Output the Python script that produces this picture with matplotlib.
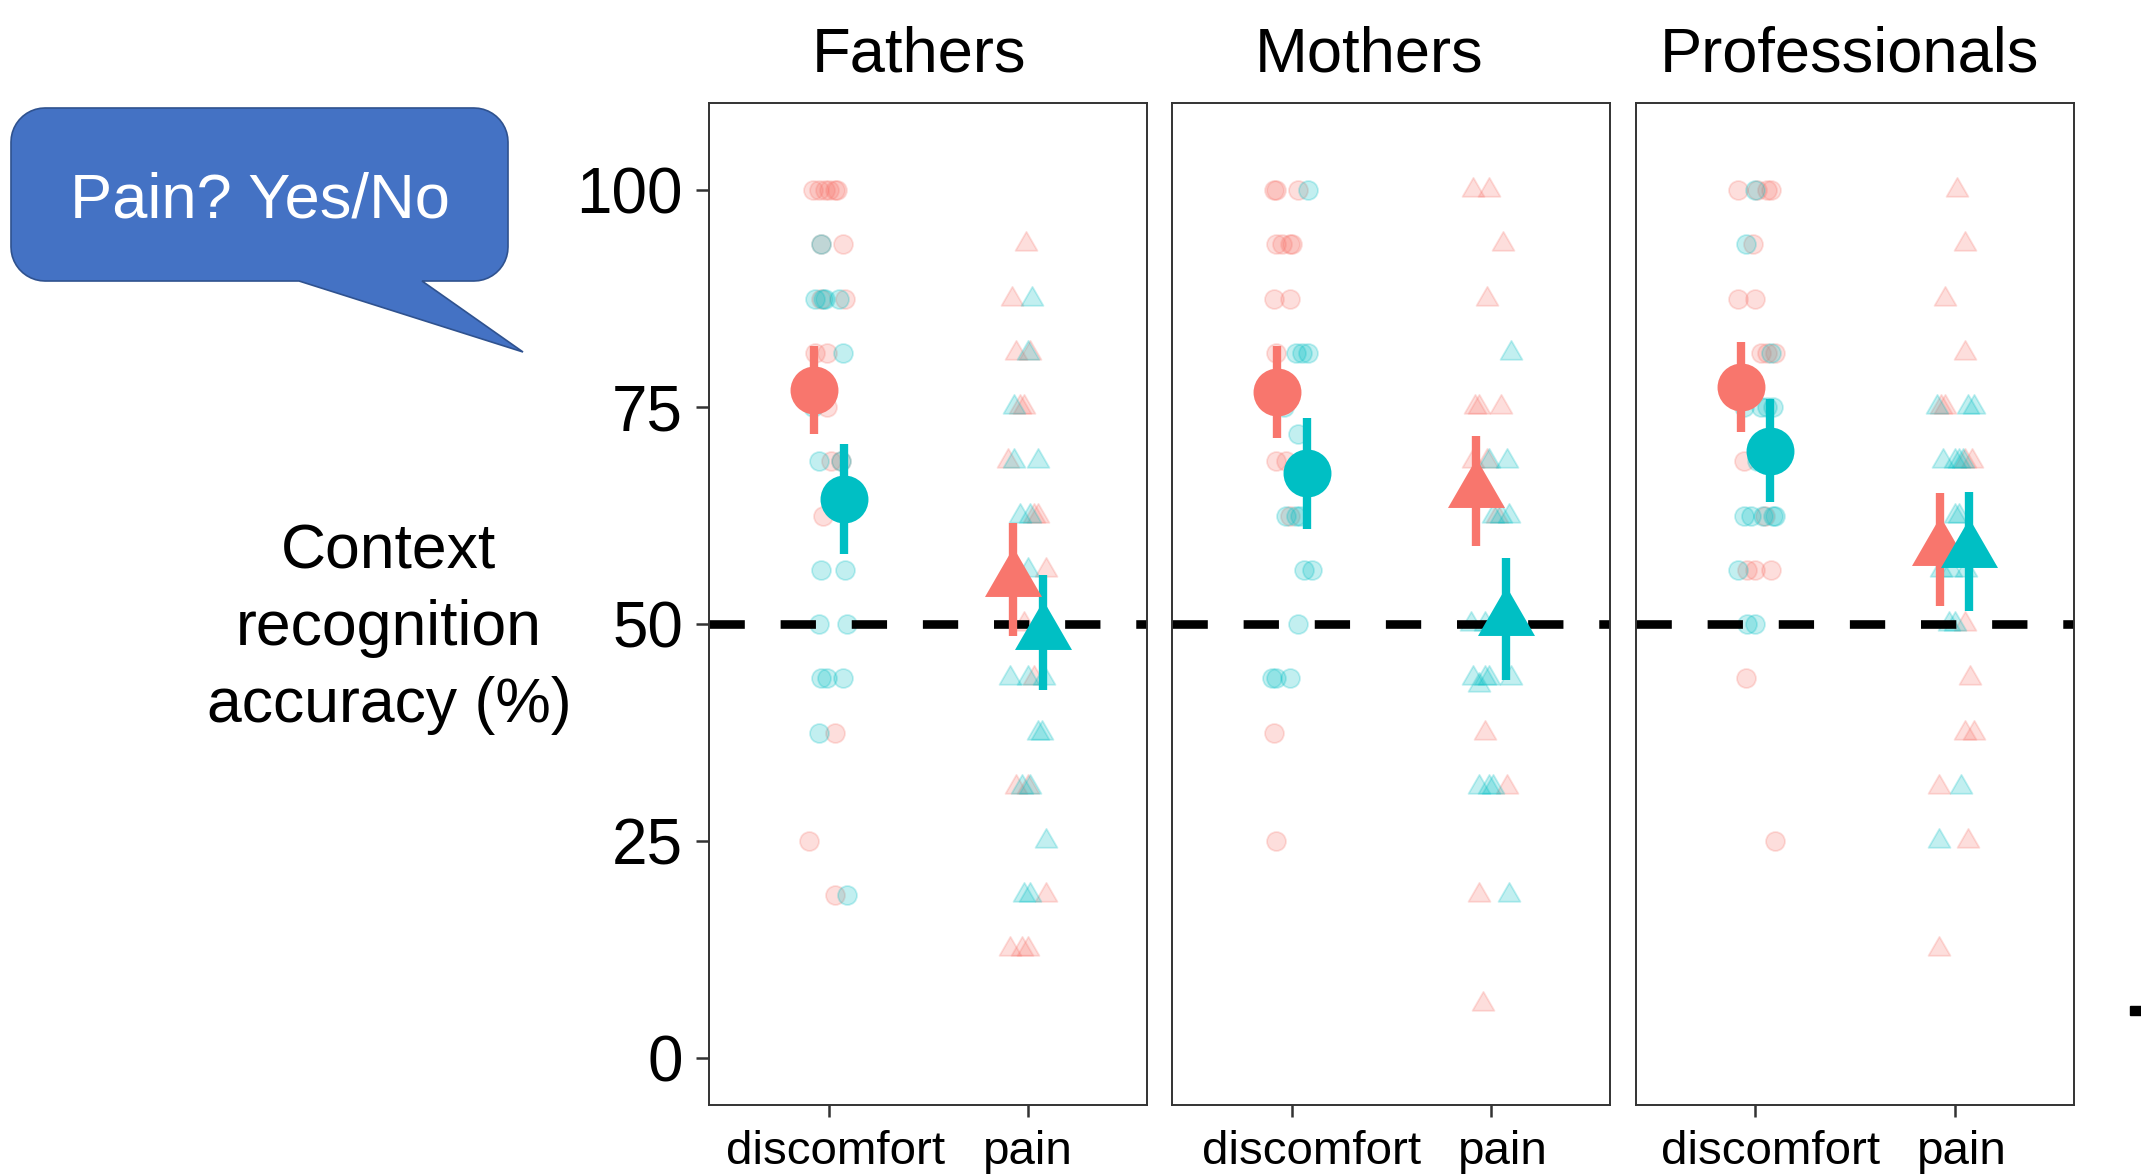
import numpy as np
import matplotlib
matplotlib.use("Agg")
import matplotlib.pyplot as plt
import matplotlib.transforms as mtrans
from matplotlib.path import Path
from matplotlib.patches import Polygon, Rectangle

plt.rcParams['font.family'] = ['Liberation Sans', 'DejaVu Sans']

W, H = 2141, 1174

panels = ["Fathers", "Mothers", "Professionals"]
conditions = ["discomfort", "pain"]
yticks = [0, 25, 50, 75, 100]
chance = 50

# group means and SE per panel, [discomfort, pain]
mean_red = [[77.0, 55.1], [76.8, 65.3], [77.3, 58.6]]
se_red = [[5.1, 6.5], [5.3, 6.35], [5.2, 6.5]]
mean_teal = [[64.4, 49.0], [67.4, 50.6], [70.0, 58.4]]
se_teal = [[6.3, 6.6], [6.4, 7.0], [5.95, 6.85]]

# individual scores (%) and their horizontal jitter (category units from tick)
# Fathers
fd_red_y = [100, 100, 100, 100, 100, 100, 93.75, 93.75, 87.5, 87.5, 81.25, 81.25, 75, 68.75, 68.75, 62.5, 37.5, 25, 18.75]
fd_red_dx = [-0.08, -0.05, -0.02, 0.0, 0.03, 0.04, -0.04, 0.07, -0.04, 0.08, -0.07, -0.01, -0.01, 0.01, 0.06, -0.03, 0.03, -0.10, 0.03]
fd_teal_y = [93.75, 87.5, 87.5, 87.5, 87.5, 81.25, 75, 68.75, 68.75, 56.25, 56.25, 50, 50, 43.75, 43.75, 43.75, 37.5, 18.75]
fd_teal_dx = [-0.04, -0.07, -0.03, -0.02, 0.05, 0.07, -0.08, -0.05, 0.06, -0.04, 0.08, -0.05, 0.09, -0.04, -0.01, 0.07, -0.05, 0.09]
fp_red_y = [93.75, 87.5, 81.25, 81.25, 75, 75, 68.75, 62.5, 62.5, 56.25, 50, 43.75, 31.25, 31.25, 18.75, 12.5, 12.5, 12.5]
fp_red_dx = [-0.01, -0.08, -0.06, 0.01, -0.04, -0.02, -0.10, 0.03, 0.05, 0.09, -0.02, 0.03, -0.06, 0.0, 0.09, -0.09, -0.03, 0.0]
fp_teal_y = [87.5, 81.25, 75, 68.75, 68.75, 62.5, 62.5, 56.25, 43.75, 43.75, 43.75, 37.5, 37.5, 31.25, 31.25, 25, 18.75, 18.75]
fp_teal_dx = [0.02, 0.0, -0.07, -0.07, 0.05, -0.04, 0.01, 0.0, -0.09, 0.0, 0.08, 0.05, 0.07, -0.03, 0.01, 0.09, -0.02, 0.01]
# Mothers
md_red_y = [100, 100, 100, 93.75, 93.75, 93.75, 93.75, 87.5, 87.5, 81.25, 68.75, 68.75, 62.5, 37.5, 25]
md_red_dx = [-0.09, -0.08, 0.03, -0.08, -0.05, -0.01, 0.0, -0.09, -0.01, -0.08, -0.08, -0.03, -0.01, -0.09, -0.08]
md_teal_y = [100, 81.25, 81.25, 81.25, 75, 71.9, 62.5, 62.5, 62.5, 56.25, 56.25, 50, 43.75, 43.75, 43.75]
md_teal_dx = [0.08, 0.02, 0.05, 0.08, -0.04, 0.03, -0.03, 0.02, 0.04, 0.06, 0.10, 0.03, -0.10, -0.08, -0.01]
mp_red_y = [100, 100, 93.75, 87.5, 75, 75, 75, 68.75, 68.75, 62.5, 37.5, 31.25, 18.75, 6.25]
mp_red_dx = [-0.09, -0.01, 0.06, -0.02, -0.08, -0.06, 0.05, -0.09, -0.02, 0.03, -0.03, 0.08, -0.06, -0.04]
mp_teal_y = [81.25, 68.75, 68.75, 62.5, 62.5, 62.5, 50, 50, 43.75, 43, 43.75, 43.75, 43.75, 31.25, 31.25, 31.25, 18.75]
mp_teal_dx = [0.10, -0.01, 0.08, 0.01, 0.05, 0.09, -0.10, -0.03, -0.09, -0.06, -0.03, -0.01, 0.10, -0.06, -0.01, 0.01, 0.09]
# Professionals
pd_red_y = [100, 100, 100, 100, 93.75, 87.5, 87.5, 81.25, 81.25, 81.25, 68.75, 62.5, 56.25, 56.25, 56.25, 43.75, 25]
pd_red_dx = [-0.09, 0.01, 0.06, 0.08, -0.01, -0.09, 0.0, 0.03, 0.06, 0.10, -0.06, 0.05, -0.04, 0.0, 0.08, -0.05, 0.10]
pd_teal_y = [100, 93.75, 81.25, 75, 75, 75, 75, 68.75, 62.5, 62.5, 62.5, 62.5, 62.5, 56.25, 50, 50]
pd_teal_dx = [0.0, -0.05, 0.08, -0.06, 0.03, 0.06, 0.09, 0.01, -0.06, -0.02, 0.04, 0.09, 0.10, -0.09, -0.04, 0.0]
pp_red_y = [100, 93.75, 87.5, 81.25, 75, 75, 68.75, 68.75, 50, 43.75, 37.5, 37.5, 31.25, 25, 12.5]
pp_red_dx = [0.01, 0.05, -0.05, 0.05, -0.07, -0.05, 0.05, 0.09, 0.05, 0.08, 0.05, 0.10, -0.08, 0.07, -0.08]
pp_teal_y = [75, 75, 75, 68.75, 68.75, 68.75, 68.75, 62.5, 62.5, 56.25, 56.25, 56.25, 50, 50, 31.25, 25]
pp_teal_dx = [-0.09, 0.07, 0.10, -0.06, 0.0, 0.02, 0.04, 0.0, 0.02, -0.07, -0.02, 0.06, -0.03, 0.0, 0.03, -0.08]

pts_red = [[(fd_red_y, fd_red_dx), (fp_red_y, fp_red_dx)],
           [(md_red_y, md_red_dx), (mp_red_y, mp_red_dx)],
           [(pd_red_y, pd_red_dx), (pp_red_y, pp_red_dx)]]
pts_teal = [[(fd_teal_y, fd_teal_dx), (fp_teal_y, fp_teal_dx)],
            [(md_teal_y, md_teal_dx), (mp_teal_y, mp_teal_dx)],
            [(pd_teal_y, pd_teal_dx), (pp_teal_y, pp_teal_dx)]]

red = "#F8766D"
teal = "#00BFC4"
dodge = 0.075

# equilateral triangle centred on its centroid (ggplot shape 17)
tri = Path([(0, 1), (-0.866, -0.5), (0.866, -0.5), (0, 1)],
           [Path.MOVETO, Path.LINETO, Path.LINETO, Path.CLOSEPOLY])
shapes = ['o', tri]

fig = plt.figure(figsize=(W / 100, H / 100), dpi=100)

# background axes in pixel units for the callout and free text
bg = fig.add_axes([0, 0, 1, 1])
bg.set_xlim(0, W)
bg.set_ylim(H, 0)
bg.axis('off')

panel_left = [709.3, 1172.3, 1636.0]
panel_w = 438
top, bottom = 102.6, 1104.8
# the slide has titles / labels slightly off-centre (pixels)
title_shift = [-9, -22, -6]
label_shift = [[7, 0], [20, 12], [15, 7]]

for i, name in enumerate(panels):
    ax = fig.add_axes([panel_left[i] / W, 1 - bottom / H, panel_w / W, (bottom - top) / H])
    ax.set_xlim(0.4, 2.6)
    ax.set_ylim(-5.4, 110.1)

    for j, cond in enumerate(conditions):
        xc = j + 1
        small_s = 185 if j == 0 else 330
        for (yy, dx), col in [(pts_red[i][j], red), (pts_teal[i][j], teal)]:
            ax.scatter(xc + np.array(dx), yy, s=small_s, marker=shapes[j], color=col,
                       alpha=0.24, linewidths=1.3, edgecolors=col, zorder=2)

    ax.axhline(chance, color='black', lw=6.2, linestyle=(0, (4.1, 4.16)), zorder=2.5)

    for j, cond in enumerate(conditions):
        xc = j + 1
        big = 34.5 if j == 0 else 47.4
        for m, se, col, off in [(mean_red[i][j], se_red[i][j], red, -dodge),
                                (mean_teal[i][j], se_teal[i][j], teal, dodge)]:
            ax.plot([xc + off, xc + off], [m - se, m + se], color=col, lw=6,
                    solid_capstyle='butt', zorder=3)
        for m, col, off in [(mean_red[i][j], red, -dodge), (mean_teal[i][j], teal, dodge)]:
            ax.plot([xc + off], [m], marker=shapes[j], ms=big, color=col, mew=0, zorder=4)

    ax.set_xticks([1, 2])
    ax.set_xticklabels(conditions, fontsize=34.2)
    ax.tick_params(axis='x', length=8.6, width=1.8, color='#333333', pad=9.4)
    for lab, sh in zip(ax.get_xticklabels(), label_shift[i]):
        lab.set_transform(lab.get_transform() + mtrans.ScaledTranslation(sh / 100, 0, fig.dpi_scale_trans))
    if i == 0:
        ax.set_yticks(yticks)
        ax.set_yticklabels([str(t) for t in yticks], fontsize=46)
        ax.tick_params(axis='y', length=9.4, width=1.8, color='#333333', pad=9.6)
    else:
        ax.set_yticks([])
    for sp in ax.spines.values():
        sp.set_color('#333333')
        sp.set_linewidth(1.4)
    ax.text(0.5 + title_shift[i] / panel_w, 1 + 31.5 / (bottom - top), name, transform=ax.transAxes,
            ha='center', va='baseline', fontsize=45.5)

# y axis title (anchored on the last line's baseline)
bg.text(389, 722, "Context\nrecognition\naccuracy (%)", ha='center', va='baseline',
        multialignment='center', fontsize=45, linespacing=1.39)

# speech bubble
x0, x1, y0, y1, r = 11, 508, 108, 281, 34
def arc(cx, cy, a0, a1):
    a = np.radians(np.linspace(a0, a1, 12))
    return list(zip(cx + r * np.cos(a), cy + r * np.sin(a)))

verts = []
verts += arc(x0 + r, y0 + r, 180, 270)
verts += arc(x1 - r, y0 + r, 270, 360)
verts += arc(x1 - r, y1 - r, 0, 90)
verts += [(422, y1), (523, 352), (299, y1)]
verts += arc(x0 + r, y1 - r, 90, 180)
bg.add_patch(Polygon(verts, closed=True, facecolor='#4472C4', edgecolor='#2F528F', lw=1.2))
bg.text(260, 218, "Pain? Yes/No", color='white', ha='center', va='baseline', fontsize=45.5)

# stray mark at the right edge
bg.add_patch(Rectangle((2130, 1006), 11, 9, color='black'))

fig.savefig("out.png", dpi=100)
